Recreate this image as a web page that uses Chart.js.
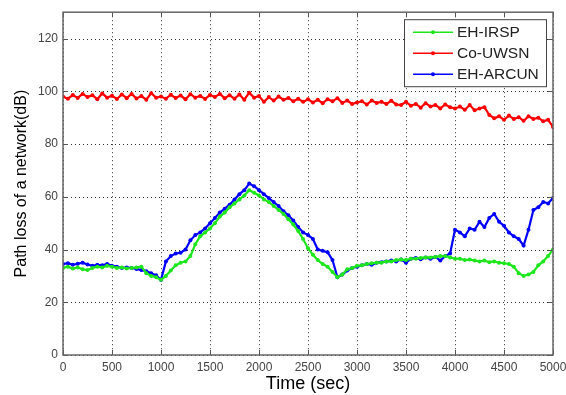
<!DOCTYPE html>
<html>
<head>
<meta charset="utf-8">
<script src="https://cdn.jsdelivr.net/npm/chart.js@4.4.0/dist/chart.umd.min.js"></script>
<style>
  body { margin: 0; background: #fff; }
</style>
</head>
<body>
<canvas id="lossChart" width="566" height="395"></canvas>
<script>
const times = [];
for (let t = 0; t <= 5000; t += 50) times.push(t);

const irsp = [
  33.0, 33.5, 32.8, 33.2, 32.5, 32.2, 33.0, 33.5, 33.2, 33.8,
  33.5, 33.0, 33.2, 32.8, 33.0, 33.2, 33.5, 31.0, 30.0, 29.5,
  28.5, 30.0, 32.0, 34.0, 35.0, 35.5, 37.5, 42.0, 45.0, 46.5,
  48.0, 50.0, 52.5, 54.0, 56.0, 57.5, 59.0, 60.5, 62.5, 61.5,
  60.5, 59.0, 58.0, 56.5, 55.0, 53.5, 51.5, 49.5, 47.0, 44.0,
  40.5, 38.0, 36.0, 34.5, 33.5, 31.5, 29.5, 30.5, 32.5, 33.0,
  33.8, 34.0, 34.5, 34.8, 35.0, 35.0, 35.5, 35.5, 36.0, 36.2,
  36.0, 36.5, 36.5, 36.8, 37.0, 37.0, 37.2, 37.5, 37.5, 37.0,
  36.5, 36.5, 36.0, 36.2, 35.8, 35.5, 35.8, 35.2, 35.5, 35.0,
  34.8, 34.5, 33.5, 31.0, 30.0, 30.5, 31.5, 34.0, 35.5, 37.5,
  40.0
];

const couwsn = [
  98.0, 97.2, 98.6, 97.5, 99.0, 97.8, 98.5, 97.0, 99.2, 97.6,
  98.3, 97.1, 98.8, 97.4, 99.0, 97.3, 98.2, 96.8, 99.3, 97.6,
  98.0, 97.2, 98.7, 97.5, 98.4, 97.0, 98.9, 97.6, 98.2, 97.1,
  98.6, 97.8, 99.0, 97.4, 98.5, 97.2, 98.8, 96.8, 99.5, 97.6,
  98.2, 96.0, 97.8, 96.5, 98.0, 96.8, 97.5, 96.2, 97.2, 96.0,
  97.0, 95.8, 96.8, 95.5, 97.0, 96.2, 97.4, 95.6, 96.5, 95.2,
  95.8, 96.2, 95.0, 96.5, 95.6, 96.0, 95.2, 96.4, 95.0, 94.8,
  96.0, 94.5, 95.2, 93.8, 95.5, 94.2, 94.8, 93.5, 95.0, 94.0,
  93.5, 94.2, 93.0, 94.8, 92.8, 93.5, 94.0, 91.0, 89.8, 90.5,
  89.2, 90.8, 89.5, 90.2, 88.8, 90.5, 89.5, 90.0, 88.6, 89.2,
  86.5
];

const arcun = [
  34.5, 34.8, 34.2, 34.6, 35.0, 34.3, 33.8, 34.2, 34.0, 34.5,
  33.8, 33.5, 33.0, 33.2, 33.0, 32.6, 32.2, 31.8, 31.0, 30.2,
  28.5, 35.5, 37.5, 38.5, 38.8, 40.0, 43.5, 45.5, 46.5, 48.0,
  50.0, 52.0, 54.0, 55.5, 57.0, 59.0, 61.0, 62.5, 65.0, 64.0,
  62.5, 61.0, 59.5, 58.0, 56.5, 54.5, 53.0, 51.0, 48.5, 46.5,
  45.5, 44.0, 40.0, 39.5, 39.0, 36.0, 29.5, 30.5, 32.0, 33.0,
  33.5, 34.0, 34.5, 34.2, 35.0, 35.2, 35.5, 35.8, 35.5, 36.2,
  35.0, 36.5, 36.8, 36.3, 37.0, 36.5, 37.2, 35.8, 37.5, 38.5,
  47.5, 46.5, 45.0, 48.0, 47.5, 50.5, 48.5, 52.0, 53.5, 50.5,
  49.0, 46.5, 45.0, 44.0, 41.5, 47.5, 55.0, 56.0, 58.0, 57.5,
  59.5
];

const seriesNames = ["EH-IRSP", "Co-UWSN", "EH-ARCUN"];
const seriesColors = ["#1ee61e", "#ff0000", "#0000ff"];
const yTicks = [0, 20, 40, 60, 80, 100, 120];

function toPoints(values) {
  return values.map((v, i) => ({ x: times[i], y: v }));
}

const framePlugin = {
  id: "frame",
  beforeDatasetsDraw(chart) {
    // dotted matlab grid
    const ctx = chart.ctx;
    const a = chart.chartArea;
    const xs = chart.scales.x;
    const ys = chart.scales.y;
    ctx.save();
    ctx.strokeStyle = "#333";
    ctx.lineWidth = 1;
    ctx.setLineDash([1, 3]);
    ctx.beginPath();
    xs.ticks.forEach((t) => {
      const px = Math.round(xs.getPixelForValue(t.value)) + 0.5;
      ctx.moveTo(px, a.top);
      ctx.lineTo(px, a.bottom);
    });
    ys.ticks.forEach((t) => {
      const py = Math.round(ys.getPixelForValue(t.value)) + 0.5;
      ctx.moveTo(a.left, py);
      ctx.lineTo(a.right, py);
    });
    ctx.stroke();
    ctx.restore();
  },
  afterDatasetsDraw(chart) {
    const ctx = chart.ctx;
    const a = chart.chartArea;
    const xs = chart.scales.x;
    const ys = chart.scales.y;
    ctx.save();
    ctx.strokeStyle = "#555";
    ctx.lineWidth = 1;
    ctx.beginPath();
    xs.ticks.forEach((t) => {
      const px = Math.round(xs.getPixelForValue(t.value)) + 0.5;
      ctx.moveTo(px, a.bottom);
      ctx.lineTo(px, a.bottom - 5);
      ctx.moveTo(px, a.top);
      ctx.lineTo(px, a.top + 5);
    });
    ys.ticks.forEach((t) => {
      const py = Math.round(ys.getPixelForValue(t.value)) + 0.5;
      ctx.moveTo(a.left, py);
      ctx.lineTo(a.left + 5, py);
      ctx.moveTo(a.right, py);
      ctx.lineTo(a.right - 5, py);
    });
    ctx.stroke();
    ctx.strokeStyle = "#666";
    ctx.lineWidth = 1.5;
    ctx.strokeRect(a.left, a.top, a.right - a.left, a.bottom - a.top);
    ctx.restore();
  },
  afterDraw(chart) {
    // legend box in the top right corner, matlab style
    const ctx = chart.ctx;
    const a = chart.chartArea;
    const w = 142, h = 67;
    const x0 = a.right - 149, y0 = a.top + 7;
    ctx.save();
    ctx.fillStyle = "#fff";
    ctx.fillRect(x0, y0, w, h);
    ctx.strokeStyle = "#444";
    ctx.lineWidth = 1;
    ctx.strokeRect(x0 + 0.5, y0 + 0.5, w, h);
    ctx.font = "15.5px 'Liberation Sans', Arial, sans-serif";
    ctx.textBaseline = "middle";
    chart.data.datasets.forEach((ds, i) => {
      const yy = y0 + 13 + i * 21;
      ctx.strokeStyle = ds.borderColor;
      ctx.lineWidth = 1.5;
      ctx.beginPath();
      ctx.moveTo(x0 + 9, yy);
      ctx.lineTo(x0 + 49, yy);
      ctx.stroke();
      ctx.fillStyle = ds.borderColor;
      ctx.beginPath();
      ctx.arc(x0 + 29, yy, 2, 0, Math.PI * 2);
      ctx.fill();
      ctx.fillStyle = "#222";
      ctx.fillText(ds.label, x0 + 53, yy + 1);
    });
    ctx.restore();
  },
};

const ctx = document.getElementById("lossChart").getContext("2d");
new Chart(ctx, {
  type: "line",
  data: {
    datasets: [
      {
        label: seriesNames[0],
        data: toPoints(irsp),
        borderColor: seriesColors[0],
        backgroundColor: seriesColors[0],
      },
      {
        label: seriesNames[1],
        data: toPoints(couwsn),
        borderColor: seriesColors[1],
        backgroundColor: seriesColors[1],
      },
      {
        label: seriesNames[2],
        data: toPoints(arcun),
        borderColor: seriesColors[2],
        backgroundColor: seriesColors[2],
      },
    ],
  },
  options: {
    responsive: false,
    animation: false,
    layout: { padding: { left: 0, top: 10, right: 13, bottom: 0 } },
    elements: {
      line: { borderWidth: 2.2, tension: 0 },
      point: { radius: 2, borderWidth: 0, hoverRadius: 2 },
    },
    plugins: {
      legend: { display: false },
      tooltip: { enabled: false },
    },
    scales: {
      x: {
        type: "linear",
        min: 0,
        max: 5000,
        ticks: {
          stepSize: 500,
          color: "#444",
          font: { family: "'Liberation Sans', Arial", size: 12 },
          padding: 5,
          maxRotation: 0,
          callback: (v) => String(v),
        },
        grid: { display: false, drawTicks: false },
        border: { display: false },
        title: {
          display: true,
          text: "Time (sec)",
          color: "#000",
          font: { family: "'Liberation Sans', Arial", size: 18 },
          padding: { top: 0, bottom: 0 },
        },
        afterFit(scale) {
          scale.height = 40;
          scale.paddingLeft = 0;
          scale.paddingRight = 0;
        },
      },
      y: {
        min: 0,
        max: 130,
        afterBuildTicks(scale) {
          scale.ticks = yTicks.map((v) => ({ value: v }));
        },
        ticks: {
          color: "#444",
          font: { family: "'Liberation Sans', Arial", size: 12 },
          padding: 5,
        },
        grid: { display: false, drawTicks: false },
        border: { display: false },
        title: {
          display: true,
          text: "Path loss of a network(dB)",
          color: "#000",
          font: { family: "'Liberation Sans', Arial", size: 16 },
          padding: { top: 12, bottom: 4 },
        },
        afterFit(scale) {
          scale.width = 63;
        },
      },
    },
  },
  plugins: [framePlugin],
});
</script>
</body>
</html>
